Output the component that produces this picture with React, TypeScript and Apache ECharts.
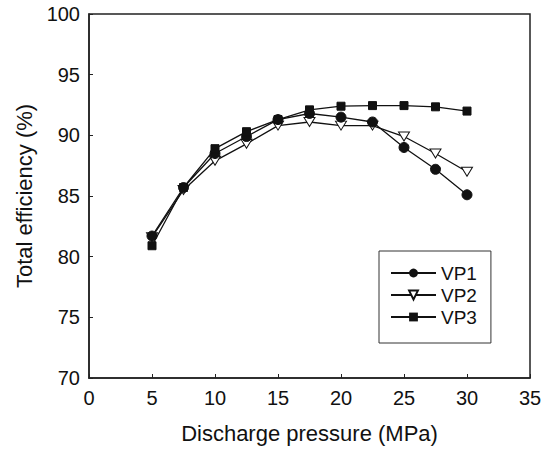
import React, { useEffect, useRef } from "react";
import * as echarts from "echarts";

const pressures = [5, 7.5, 10, 12.5, 15, 17.5, 20, 22.5, 25, 27.5, 30];
const vp1 = [81.7, 85.7, 88.5, 89.9, 91.3, 91.8, 91.5, 91.1, 89.0, 87.2, 85.1];
const vp2 = [81.6, 85.5, 87.9, 89.3, 90.8, 91.1, 90.8, 90.8, 89.9, 88.5, 87.0];
const vp3 = [80.9, 85.7, 88.9, 90.3, 91.3, 92.1, 92.4, 92.45, 92.45, 92.35, 92.0];
const seriesNames = ["VP1", "VP2", "VP3"];

const FONT = "Liberation Sans, Arial, sans-serif";
const TRI_DOWN = "path://M0,0 L10,0 L5,9 Z";

export default function App() {
  const ref = useRef<HTMLDivElement>(null);
  useEffect(() => {
    if (!ref.current) return;
    const chart = echarts.init(ref.current, undefined, { renderer: "svg" });
    const pairs = (ys: number[]) => pressures.map((x, i) => [x, ys[i]]);
    const lineStyle = { color: "#111", width: 1.3 };
    chart.setOption({
      animation: false,
      backgroundColor: "#fff",
      textStyle: { fontFamily: FONT, color: "#111" },
      grid: {
        left: 89,
        right: 17,
        top: 14,
        bottom: 71,
        show: true,
        borderColor: "#222",
        borderWidth: 1.5,
      },
      legend: {
        orient: "vertical",
        left: 379,
        top: 251,
        backgroundColor: "#fff",
        borderColor: "#333",
        borderWidth: 1,
        borderRadius: 0,
        padding: [12, 14, 16, 11],
        itemWidth: 45,
        itemHeight: 11,
        itemGap: 2,
        textStyle: { fontSize: 19, fontFamily: FONT, color: "#111", lineHeight: 20 },
        data: seriesNames,
      },
      xAxis: {
        type: "value",
        min: 0,
        max: 35,
        interval: 5,
        name: "Discharge pressure (MPa)",
        nameLocation: "middle",
        nameGap: 44,
        nameTextStyle: { fontSize: 22, fontFamily: FONT, color: "#111" },
        axisLine: { show: true, lineStyle: { color: "#222", width: 1.5 } },
        axisTick: { show: true, inside: true, length: 4, lineStyle: { color: "#222" } },
        axisLabel: { fontSize: 20, margin: 10, color: "#111", fontFamily: FONT },
        splitLine: { show: false },
      },
      yAxis: {
        type: "value",
        min: 70,
        max: 100,
        interval: 5,
        name: "Total efficiency (%)",
        nameLocation: "middle",
        nameGap: 53,
        nameTextStyle: { fontSize: 22, fontFamily: FONT, color: "#111" },
        axisLine: { show: true, lineStyle: { color: "#222", width: 1.5 } },
        axisTick: { show: true, inside: true, length: 4, lineStyle: { color: "#222" } },
        axisLabel: { fontSize: 20, margin: 9, color: "#111", fontFamily: FONT },
        splitLine: { show: false },
      },
      series: [
        {
          name: "VP1",
          type: "line",
          data: pairs(vp1),
          symbol: "circle",
          symbolSize: 10,
          itemStyle: { color: "#111", borderColor: "#111" },
          lineStyle,
          z: 3,
        },
        {
          name: "VP2",
          type: "line",
          data: pairs(vp2),
          symbol: TRI_DOWN,
          symbolSize: [11, 10],
          symbolKeepAspect: true,
          itemStyle: { color: "#fff", borderColor: "#111", borderWidth: 1 },
          lineStyle,
          z: 2,
        },
        {
          name: "VP3",
          type: "line",
          data: pairs(vp3),
          symbol: "rect",
          symbolSize: 8,
          itemStyle: { color: "#111", borderColor: "#111" },
          lineStyle,
          z: 4,
        },
      ],
    });
    return () => chart.dispose();
  }, []);
  return <div ref={ref} style={{ width: 547, height: 449, position: "absolute", left: 0, top: 0 }} />;
}
